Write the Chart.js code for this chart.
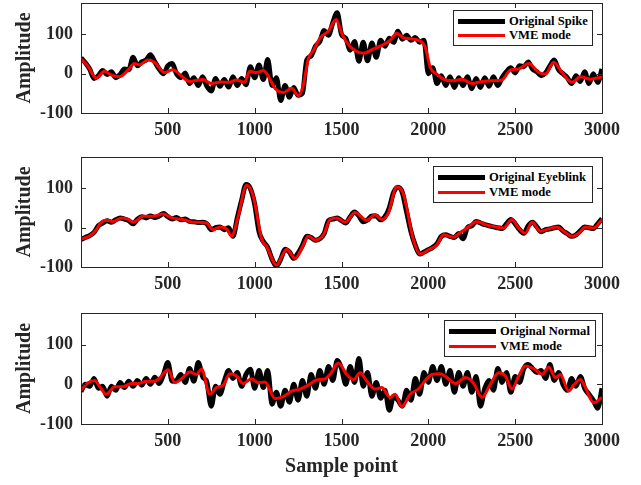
<!DOCTYPE html>
<html>
<head>
<meta charset="utf-8">
<script src="https://cdn.jsdelivr.net/npm/chart.js@4.4.1/dist/chart.umd.min.js"></script>
<style>
  body { margin: 0; background: #fff; }
  #wrap { position: relative; width: 641px; height: 485px; font-family: "Liberation Serif", "Times New Roman", serif; }
  canvas { position: absolute; left: 0; }
  .legend { position: absolute; box-sizing: border-box; border: 1px solid #262626; background: #fff; }
  .sw { position: absolute; left: 4px; width: 47px; }
  .sw.blk { height: 5px; background: #000; }
  .sw.red { height: 3px; background: #ff0000; }
  .lt { position: absolute; left: 55px; font-weight: bold; font-size: 12.6px; line-height: 16px; color: #000; white-space: nowrap; }
</style>
</head>
<body>
<div id="wrap">
  <canvas id="spike" width="641" height="150" style="top:0px"></canvas>
  <canvas id="eyeblink" width="641" height="150" style="top:150px"></canvas>
  <canvas id="normal" width="641" height="185" style="top:300px"></canvas>

  <div class="legend" style="left:453px;top:10px;width:140px;height:36px;">
    <div class="sw blk" style="top:8px"></div><span class="lt" style="top:2px">Original Spike</span>
    <div class="sw red" style="top:23px"></div><span class="lt" style="top:16px">VME mode</span>
  </div>
  <div class="legend" style="left:433px;top:166px;width:160px;height:37px;">
    <div class="sw blk" style="top:8px"></div><span class="lt" style="top:2px">Original Eyeblink</span>
    <div class="sw red" style="top:24px"></div><span class="lt" style="top:17px">VME mode</span>
  </div>
  <div class="legend" style="left:444px;top:320px;width:152px;height:37px;">
    <div class="sw blk" style="top:8px"></div><span class="lt" style="top:2px">Original Normal</span>
    <div class="sw red" style="top:24px"></div><span class="lt" style="top:17px">VME mode</span>
  </div>
</div>
<script>
// axis ticks
const xTickValues = [500, 1000, 1500, 2000, 2500, 3000];
const yTickValues = [-100, 0, 100];

// sample grid of the original signals (every 25 samples, 0..3000)
const samplePoints = Array.from({ length: 121 }, (_, i) => i * 25);

// Original Spike
const spikeOriginal = [
  40, 28, 12, -12, -5, 8, -2, 5, -10, -2, 12, 10, 42, 20, 30, 35, 48, 30, 12, 0,
  20, 26, 0, -10, 2, -25, -10, -30, -8, -32, -44, -12, -32, -15, -34, -8, -30, -12, -28, 18,
  -10, 22, -15, 36, -30, -10, -68, -30, -60, -35, -55, -50, 35, 45, 70, 82, 110, 98, 130, 155,
  100, 90, 60, 82, 32, 80, 33, 78, 42, 85, 70, 90, 80, 108, 88, 98, 85, 92, 80, 85,
  0, 15, -25, -5, -30, -8, -35, -10, -30, -8, -38, -12, -35, -10, -32, -8, -30, -10, 5, 15,
  2, 20, 18, 30, 12, 5, -5, 2, 20, 35, 10, 0, -10, -25, -5, -20, 5, -25, 0, -22,
  12
];
const spikeVmeX = [1, 39, 87, 135, 173, 221, 269, 308, 337, 385, 423, 481, 529, 577, 625, 702, 750, 807, 856, 894,
  942, 971, 1009, 1050, 1088, 1117, 1165, 1213, 1252, 1281, 1309, 1338, 1377, 1425, 1469, 1502, 1530, 1578, 1627, 1675,
  1732, 1780, 1819, 1857, 1896, 1944, 1982, 1995, 2011, 2049, 2097, 2145, 2193, 2251, 2309, 2366, 2424, 2472, 2520, 2578,
  2636, 2674, 2722, 2770, 2828, 2876, 2933, 3000];
const spikeVmeY = [37, 20, -11, 6, -3, -8, 8, 26, 23, 35, 29, 3, 10, -5, -20, -15, -25, -21, -22, -16,
  -22, 6, 3, 8, -14, -37, -48, -37, -56, -27, 38, 59, 91, 109, 138, 102, 80, 59, 52, 61,
  72, 85, 103, 91, 89, 85, 68, 45, 16, -1, -16, -18, -14, -25, -20, -18, -16, 9, 12, 26,
  3, -1, 29, 3, -22, -8, -14, -8];

// Original Eyeblink
const eyeblinkOriginal = [
  -30, -25, -20, -12, 5, 12, 18, 14, 20, 25, 22, 18, 10, 22, 28, 25, 30, 26, 30, 36,
  28, 22, 26, 20, 22, 16, 15, 13, 14, 10, -5, 0, 2, -5, 0, -22, 25, 70, 110, 100,
  60, -10, -35, -50, -80, -98, -80, -55, -62, -78, -65, -45, -22, -25, -32, -28, -15, 18, 22, 25,
  18, 12, 28, 40, 30, 15, 20, 30, 30, 20, 28, 50, 90, 103, 90, 40, -10, -45, -67, -62,
  -56, -50, -40, -22, -18, -22, -25, -15, -28, 0, 5, 16, 12, 8, 5, 2, 0, -2, 10, 21,
  10, -5, -14, 5, 14, 2, -10, -5, -3, 0, 2, -8, -15, -22, -18, -8, 2, 0, -2, 10,
  23
];
const eyeblinkVmeX = [1, 50, 88, 117, 146, 184, 233, 271, 300, 357, 415, 473, 521, 588, 646, 723, 761, 800, 838, 867,
  905, 953, 992, 1040, 1069, 1126, 1155, 1184, 1232, 1280, 1309, 1347, 1396, 1434, 1472, 1520, 1578, 1645, 1693, 1732,
  1770, 1818, 1857, 1914, 1953, 2001, 2049, 2087, 2145, 2184, 2222, 2280, 2328, 2376, 2433, 2481, 2520, 2558, 2597, 2645,
  2693, 2741, 2779, 2827, 2866, 2904, 2952, 3000];
const eyeblinkVmeY = [-29, -21, -5, 14, 19, 16, 25, 21, 14, 29, 29, 35, 25, 21, 14, 12, -5, 2, -3, -21,
  29, 108, 80, -29, -48, -95, -74, -55, -78, -44, -22, -31, -18, 21, 25, 14, 39, 19, 33, 21,
  38, 104, 85, -31, -67, -56, -44, -18, -24, -12, -1, 16, 8, 3, -1, 21, -1, -14, 14, -9,
  -3, 2, -9, -22, -14, 2, -1, 21];

// Original Normal
const normalOriginal = [
  -18, 0, -5, 15, -10, -5, -30, -5, -15, 5, -8, 8, -5, 10, -2, 15, 0, 18, 2, 25,
  55, 8, 10, 25, 5, 40, 8, 55, 20, 5, -55, -5, -25, 8, 35, 15, 30, -5, 25, 38,
  -10, 35, -8, 35, -50, -20, -55, -15, -45, 0, -40, 10, -30, 25, -10, 35, 0, 45, 10, 60,
  40, 0, 45, 5, 65, -5, 30, -30, 5, -35, -15, -65, -30, -40, -55, -15, -40, 15, -25, 30,
  5, 45, 10, 45, 0, 35, -20, 30, -5, 30, -20, 20, -55, -10, 10, -15, 40, 5, 30, -20,
  20, 5, 40, 50, 40, 30, 35, 15, 50, 10, 30, 0, -15, 15, -5, 20, -10, -25, -40, -60,
  -10
];
const normalVmeX = [1, 40, 79, 108, 146, 194, 242, 290, 329, 377, 425, 454, 502, 540, 579, 627, 665, 694, 742, 780,
  819, 857, 896, 934, 982, 1021, 1059, 1117, 1165, 1213, 1261, 1309, 1357, 1405, 1434, 1482, 1530, 1569, 1607, 1646,
  1694, 1732, 1780, 1809, 1847, 1896, 1944, 1992, 2020, 2068, 2107, 2155, 2213, 2261, 2309, 2357, 2405, 2443, 2482, 2520,
  2559, 2616, 2655, 2693, 2732, 2760, 2808, 2837, 2876, 2904, 2952, 3000];
const normalVmeY = [-14, 4, 10, -6, -25, -6, -6, 2, 2, 8, 8, 17, 37, 4, 14, 31, 25, 39, -25, -8,
  -2, 27, 21, 2, 14, 4, 6, -36, -31, -17, -12, -2, 11, 14, 25, 54, 25, 12, 29, 8,
  -12, -8, -33, -25, -56, -25, -11, 15, 25, 27, 17, 2, 17, 2, -33, 0, 29, 21, -12, 21,
  46, 37, 25, 44, 17, 25, -17, -2, 12, -8, -46, -33];

const fontFamily = '"Liberation Serif", "Times New Roman", serif';
const axisColor = '#262626';

// full box with inward tick marks, MATLAB style
const boxTicks = {
  id: 'boxTicks',
  afterDraw(chart) {
    const { ctx, chartArea: a, scales: { x, y } } = chart;
    ctx.save();
    ctx.strokeStyle = axisColor;
    ctx.lineWidth = 1;
    ctx.strokeRect(Math.round(a.left) + 0.5, Math.round(a.top) + 0.5, Math.round(a.right - a.left), Math.round(a.bottom - a.top));
    ctx.beginPath();
    xTickValues.forEach((v) => {
      const px = Math.round(x.getPixelForValue(v)) + 0.5;
      ctx.moveTo(px, a.bottom); ctx.lineTo(px, a.bottom - 5);
      ctx.moveTo(px, a.top); ctx.lineTo(px, a.top + 5);
    });
    yTickValues.forEach((v) => {
      const py = Math.round(y.getPixelForValue(v)) + 0.5;
      ctx.moveTo(a.left, py); ctx.lineTo(a.left + 5, py);
      ctx.moveTo(a.right, py); ctx.lineTo(a.right - 5, py);
    });
    ctx.stroke();
    ctx.restore();
  }
};

// scales should not push the plot box around
const noScalePadding = (s) => {
  s.paddingTop = 0;
  s.paddingBottom = 0;
  s.paddingLeft = 0;
  s.paddingRight = 0;
};

const makeChart = (id, original, vmeX, vmeY, topPad, xHeight, showXTitle) => {
  const ctx = document.getElementById(id).getContext('2d');
  return new Chart(ctx, {
    type: 'line',
    data: {
      datasets: [
        {
          label: 'VME mode',
          data: vmeX.map((s, i) => ({ x: s, y: vmeY[i] })),
          borderColor: '#ff0000',
          borderWidth: 3,
          pointRadius: 0,
          cubicInterpolationMode: 'monotone',
          order: 0
        },
        {
          label: 'Original',
          data: samplePoints.map((s, i) => ({ x: s, y: original[i] })),
          borderColor: '#000000',
          borderWidth: 5,
          pointRadius: 0,
          cubicInterpolationMode: 'monotone',
          order: 1
        }
      ]
    },
    options: {
      responsive: false,
      animation: false,
      layout: { padding: { top: topPad, right: 39, left: 0, bottom: 0 } },
      plugins: { legend: { display: false }, tooltip: { enabled: false } },
      scales: {
        x: {
          type: 'linear',
          min: 0,
          max: 3000,
          grid: { display: false, drawTicks: false },
          border: { display: false },
          afterBuildTicks: (s) => { s.ticks = xTickValues.map((v) => ({ value: v })); },
          afterFit: (s) => { s.height = xHeight; noScalePadding(s); },
          ticks: {
            autoSkip: false,
            maxRotation: 0,
            padding: 7,
            color: axisColor,
            font: { family: fontFamily, size: 18, weight: 'bold' },
            callback: (v) => String(v)
          },
          title: {
            display: showXTitle,
            text: 'Sample point',
            color: axisColor,
            font: { family: fontFamily, size: 20, weight: 'bold' },
            padding: { top: 0, bottom: 6 }
          }
        },
        y: {
          min: -100,
          max: 180,
          grid: { display: false, drawTicks: false },
          border: { display: false },
          afterBuildTicks: (s) => { s.ticks = yTickValues.map((v) => ({ value: v })); },
          afterFit: (s) => { s.width = 81; noScalePadding(s); },
          ticks: {
            autoSkip: false,
            padding: 8,
            color: axisColor,
            font: { family: fontFamily, size: 18, weight: 'bold' },
            callback: (v) => String(v)
          },
          title: {
            display: true,
            text: 'Amplitude',
            color: axisColor,
            font: { family: fontFamily, size: 20, weight: 'bold' },
            padding: { top: 13, bottom: 0 }
          }
        }
      }
    },
    plugins: [boxTicks]
  });
};

makeChart('spike', spikeOriginal, spikeVmeX, spikeVmeY, 3, 37, false);
makeChart('eyeblink', eyeblinkOriginal, eyeblinkVmeX, eyeblinkVmeY, 7, 33, false);
makeChart('normal', normalOriginal, normalVmeX, normalVmeY, 13, 61, true);
</script>
</body>
</html>
